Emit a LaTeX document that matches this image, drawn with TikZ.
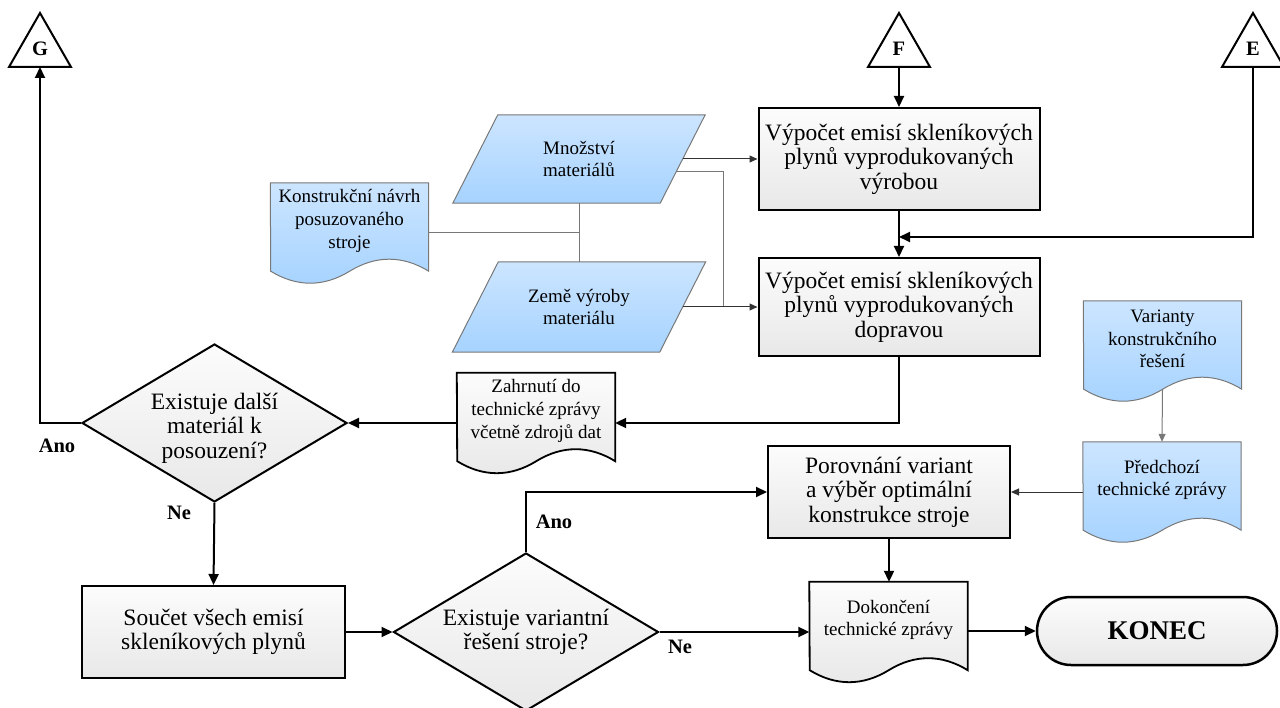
\documentclass[tikz,border=0pt]{standalone}
\usepackage{fontspec}
\setmainfont{Liberation Serif}
\usetikzlibrary{arrows.meta,shapes.geometric,calc,backgrounds}
\definecolor{bluetop}{RGB}{204,229,255}
\definecolor{bluebot}{RGB}{166,211,255}
\definecolor{graytop}{RGB}{252,252,252}
\definecolor{graybot}{RGB}{232,232,232}
\definecolor{edgegray}{RGB}{120,120,120}
\newcommand\docpath[2]{\path[#2] (#1.north west) -- (#1.north east) -- ($(#1.south east)+(0,12)$) .. controls +(-26,-16) and +(26,-16) .. ++(-79,0) .. controls +(-26,16) and +(26,16) .. ++(-79,0) -- cycle;}
\newcommand\parapath[2]{\path[bluefill] ($(#1.south west)+(-#2,0)$) -- ($(#1.north west)+(#2,0)$) -- ($(#1.north east)+(#2,0)$) -- ($(#1.south east)+(-#2,0)$) -- cycle;}
\tikzset{
  bigtxt/.style={font=\fontsize{23.5}{24.5}\selectfont, align=center},
  smalltxt/.style={font=\fontsize{19}{22.8}\selectfont, align=center},
  lbl/.style={font=\bfseries\fontsize{20.5}{24}\selectfont, inner sep=0pt},
  proc/.style={bigtxt, draw=black, line width=2pt, top color=graytop, bottom color=graybot, inner sep=0pt},
  dec/.style={bigtxt, diamond, draw=black, line width=2pt, top color=graytop, bottom color=graybot, inner sep=0pt, aspect=1.68, minimum width=265pt, minimum height=158pt},
  term/.style={font=\bfseries\fontsize{27}{30}\selectfont, draw=black, line width=2.5pt, rounded corners=34pt, top color=graytop, bottom color=graybot, minimum width=240pt, minimum height=68pt},
  doctxt/.style={smalltxt, inner sep=0pt, minimum width=158pt, minimum height=76pt},
  partxt/.style={smalltxt, inner sep=0pt, minimum width=207pt},
  bluefill/.style={draw=edgegray, line width=1pt, top color=bluetop, bottom color=bluebot},
  grayfill/.style={draw=black, line width=1.8pt, top color=graytop, bottom color=graybot},
  tri/.style={draw=black, line width=2pt, fill=white},
  conn/.style={line width=2pt, -{Triangle[length=11pt,width=10pt]}},
  thinarr/.style={line width=1pt, draw=black!80, -{Triangle[length=8pt,width=7pt]}},
  thinarrgray/.style={line width=1pt, draw=edgegray, -{Triangle[length=8pt,width=7pt]}},
  thinline/.style={line width=1pt, draw=edgegray},
}
\begin{document}
\begin{tikzpicture}[x=1pt,y=-1pt]
\useasboundingbox (0,0) rectangle (1280,708);

% connector triangles
\draw[tri] (40,13) -- (71,67) -- (9,67) -- cycle;
\node[lbl] (g) at (40,49) {G};
\coordinate (gb) at (40,67);
\draw[tri] (899,13) -- (930,67) -- (868,67) -- cycle;
\node[lbl] (f) at (899,49) {F};
\coordinate (fb) at (899,67);
\draw[tri] (1253,13) -- (1284,67) -- (1222,67) -- cycle;
\node[lbl] (e) at (1253,49) {E};
\coordinate (eb) at (1253,67);

% process boxes
\node[proc, minimum width=281pt, minimum height=102pt] (b1) at (899,159) {Výpočet emisí skleníkových\\plynů vyprodukovaných\\výrobou};
\node[proc, minimum width=281pt, minimum height=98pt] (b2) at (899,307) {Výpočet emisí skleníkových\\plynů vyprodukovaných\\dopravou};
\node[proc, minimum width=242pt, minimum height=92pt] (po) at (889,492) {Porovnání variant\\a výběr optimální\\konstrukce stroje};
\node[proc, minimum width=263pt, minimum height=92pt] (so) at (213.5,632) {Součet všech emisí\\skleníkových plynů};
\node[dec, label={[bigtxt, inner sep=0pt, yshift=-5pt]center:Existuje další\\materiál k\\posouzení?}] (d1) at (214.5,423) {};
\node[dec] (d2) at (526,632) {Existuje variantní\\řešení stroje?};
\node[term] (ko) at (1157,631) {KONEC};

% parallelograms (data)
\node[partxt, minimum height=88pt] (p1) at (579,159) {Množství\\materiálů};
\node[partxt, minimum height=90pt] (p2) at (579,307) {Země výroby\\materiálu};

% documents
\node[doctxt] (kn) at (349.5,221) {Konstrukční návrh\\posuzovaného\\stroje};
\node[doctxt] (zh) at (536,411) {Zahrnutí do\\technické zprávy\\včetně zdrojů dat};
\node[doctxt] (dk) at (888.5,620) {Dokončení\\technické zprávy};
\node[doctxt] (va) at (1162.5,339) {Varianty\\konstrukčního\\řešení};
\node[doctxt] (pr) at (1162,480) {Předchozí\\technické zprávy};

\begin{scope}[on background layer]
  \parapath{p1}{22.5}
  \parapath{p2}{23}
  \docpath{kn}{bluefill}
  \docpath{va}{bluefill}
  \docpath{pr}{bluefill}
  \docpath{zh}{grayfill}
  \docpath{dk}{grayfill}
\end{scope}

% helper coordinates
\coordinate (j) at (899,237);
\coordinate (jn) at (579,233);
\coordinate (p1r) at ($(p1.east)+(-6.6,13)$);
\coordinate (m2) at (723,307);
\coordinate (vab) at ($(va.south)+(0,12)$);

% connectors
\draw[conn] (fb) -- (b1.north);
\draw[conn] (b1.south) -- (b2.north);
\draw[conn] (eb) |- (j);
\draw[thinarr] (p1.east) -- (b1.west);
\draw[thinline] (p1r) -| (m2);
\draw[thinarr] (p2.east) -- (b2.west);
\draw[thinline] (kn.east |- jn) -- (jn);
\draw[thinline] (p1.south) -- (p2.north);
\draw[conn] (b2.south) |- (zh.east |- d1.east);
\draw[conn] (zh.west |- d1.east) -- (d1.east);
\draw[conn] (d1.west) -| (gb);
\draw[conn] (d1.south) -- (so.north);
\draw[conn] (so.east) -- (d2.west);
\draw[conn] (d2.north) |- (po.west);
\draw[conn] (d2.east) -- (d2.east -| dk.west);
\draw[conn] (dk.east |- ko.west) -- (ko.west);
\draw[conn] (po.south) -- (po.south |- dk.north);
\draw[thinarrgray] (vab) -- (pr.north);
\draw[thinarr] (pr.west |- po.east) -- (po.east);

% labels
\node[lbl] (la1) at (57,446) {Ano};
\node[lbl] (ln1) at (179,513) {Ne};
\node[lbl] (la2) at (554,522) {Ano};
\node[lbl] (ln2) at (680,647) {Ne};
\end{tikzpicture}
\end{document}
